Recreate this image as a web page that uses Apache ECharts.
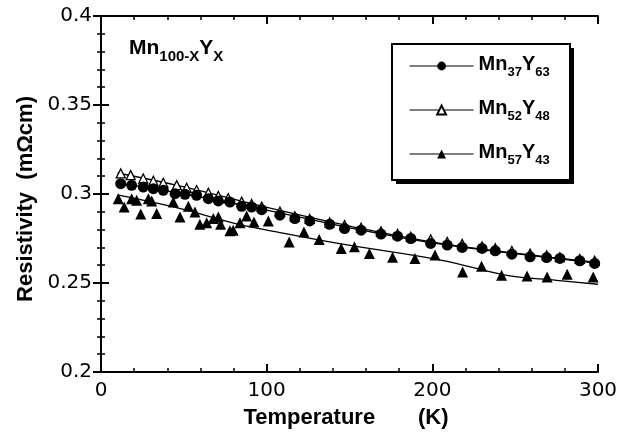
<!DOCTYPE html>
<html>
<head>
<meta charset="utf-8">
<script src="https://cdn.jsdelivr.net/npm/echarts@6/dist/echarts.min.js"></script>
<style>
  html, body { margin: 0; padding: 0; background: #fff; }
  #chart { width: 628px; height: 434px; }
</style>
</head>
<body>
<div id="chart"></div>
<script>
// Resistivity of amorphous Mn-Y alloys versus temperature
const xTicks = [0, 100, 200, 300];
const yTicks = [0.2, 0.25, 0.3, 0.35, 0.4];
const seriesNames = ['Mn37Y63', 'Mn52Y48', 'Mn57Y43'];

// measured points [T (K), rho (mOhm cm)]
const mn37y63 = [
  [11.9, 0.3058], [18.5, 0.3049], [25.5, 0.3039], [31.6, 0.3030], [37.6, 0.3021],
  [44.7, 0.3002], [50.7, 0.2998], [57.7, 0.2993], [64.8, 0.2974], [70.8, 0.2961],
  [77.8, 0.2955], [84.9, 0.2931], [90.9, 0.2927], [97, 0.2912], [108, 0.2881],
  [117, 0.2862], [126, 0.2849], [138, 0.2830], [147, 0.2806], [157, 0.2797],
  [169, 0.2775], [179, 0.2763], [187, 0.2750], [199, 0.2722], [209, 0.2713],
  [218, 0.2700], [230, 0.2694], [238, 0.2681], [248, 0.2662], [259, 0.2647],
  [269, 0.2643], [277, 0.2638], [289, 0.2625], [298, 0.2610]
];
const mn52y48 = [
  [11.9, 0.3116], [17.9, 0.3106], [25.5, 0.3087], [31.6, 0.3074], [37.6, 0.3063],
  [45.7, 0.3050], [51.7, 0.3035], [57.7, 0.3022], [64.8, 0.3007], [70.8, 0.2989],
  [76.8, 0.2976], [84.9, 0.2957], [90.9, 0.2944], [97, 0.2929], [108, 0.2901],
  [117, 0.2875], [126, 0.2860], [138, 0.2840], [147, 0.2825], [157, 0.2810],
  [169, 0.2790], [179, 0.2775], [187, 0.2760], [199, 0.2745], [209, 0.2730],
  [218, 0.2720], [230, 0.2705], [238, 0.2695], [248, 0.2680], [259, 0.2665],
  [269, 0.2655], [277, 0.2645], [289, 0.2635], [298, 0.2625]
];
const mn57y43 = [
  [10.4, 0.2974], [14, 0.2927], [18.5, 0.2974], [21.5, 0.2965], [24, 0.2887],
  [28.6, 0.2974], [30.6, 0.2961], [33.6, 0.2890], [43.6, 0.2955], [47.7, 0.2871],
  [52.7, 0.2931], [56.7, 0.2899], [59.7, 0.2830], [63.8, 0.2838], [67.8, 0.2862],
  [70.8, 0.2871], [72.2, 0.2830], [77.8, 0.2793], [79.8, 0.2797], [83.9, 0.2838],
  [87.9, 0.2876], [92.3, 0.2843], [101, 0.2849], [113.6, 0.2731], [122.5, 0.2787],
  [131.7, 0.2744], [145, 0.2694], [153, 0.2703], [162, 0.2666], [176, 0.2644],
  [189.5, 0.2638], [201.6, 0.2657], [218.3, 0.2562], [229.7, 0.2594], [241.8, 0.2543],
  [257.2, 0.2540], [269.3, 0.2534], [281.4, 0.2549], [297.1, 0.2534]
];

// guide curves through each data set
const fit37 = [[10, 0.3062], [50, 0.3000], [100, 0.2910], [150, 0.2810], [200, 0.2725], [250, 0.2665], [300, 0.2610]];
const fit52 = [[10, 0.3118], [50, 0.3040], [100, 0.2925], [150, 0.2820], [200, 0.2730], [250, 0.2668], [300, 0.2615]];
const fit57 = [[10, 0.2995], [48, 0.2918], [80, 0.2837], [106, 0.2787], [144, 0.2721], [205, 0.2629], [245, 0.2543], [275, 0.2515], [300, 0.2493]];

const FONT = '"Liberation Sans", Arial, Helvetica, sans-serif';
const TICK_FONT = '"DejaVu Sans", "Liberation Sans", sans-serif';
const INK = '#000';

function axisCommon(showLabel) {
  return {
    axisLine: { show: true, lineStyle: { color: INK, width: 2 } },
    // negative lengths turn the ticks towards the plot interior
    axisTick: { show: true, inside: false, length: -8, lineStyle: { color: INK, width: 2 } },
    minorTick: { show: true, splitNumber: 5, length: -4, lineStyle: { color: INK, width: 1.5 } },
    splitLine: { show: false },
    minorSplitLine: { show: false },
    axisLabel: { show: showLabel, color: INK, fontFamily: TICK_FONT, fontSize: 20, margin: 9 }
  };
}

// main text plus subscripts pushed down by top padding
function subscriptRich(size, subSize, drop) {
  return {
    m: { fontFamily: FONT, fontSize: size, fontWeight: 'bold', color: INK, lineHeight: 24, verticalAlign: 'top' },
    s: { fontFamily: FONT, fontSize: subSize, fontWeight: 'bold', color: INK, lineHeight: 14,
         verticalAlign: 'top', padding: [drop, 0, 0, 0] }
  };
}
function toRich(name) {
  return name.replace(/([A-Za-z]+)/g, '{m|$1}').replace(/(\d+)/g, '{s|$1}');
}

const chart = echarts.init(document.getElementById('chart'), null, { renderer: 'canvas' });

const fitStyle = { type: 'line', smooth: 0.4, showSymbol: false, symbol: 'none', silent: true,
                   lineStyle: { color: INK, width: 1.3 }, z: 2 };

// legend frame with its offset drop shadow
const legendBox = { x: 392, y: 44, width: 178, height: 136, shadow: 4 };

chart.setOption({
  animation: false,
  backgroundColor: '#fff',
  title: {
    text: '{m|Mn}{s|100-X}{m|Y}{s|X}',
    left: 129, top: 38,
    padding: 0,
    textStyle: { rich: subscriptRich(21, 15, 11) }
  },
  graphic: [
    { type: 'rect', z: 1, silent: true,
      shape: { x: legendBox.x + legendBox.shadow, y: legendBox.y + legendBox.shadow,
               width: legendBox.width, height: legendBox.height },
      style: { fill: INK } },
    { type: 'rect', z: 2, silent: true,
      shape: { x: legendBox.x, y: legendBox.y, width: legendBox.width, height: legendBox.height },
      style: { fill: '#fff', stroke: INK, lineWidth: 2 } }
  ],
  grid: { left: 101, top: 16, width: 497, height: 359 },
  legend: {
    data: seriesNames,
    orient: 'vertical',
    left: 409, top: 54,
    padding: 0,
    z: 10,
    itemGap: 19,
    itemWidth: 64,
    itemHeight: 11,
    lineStyle: { color: INK, width: 1.2, opacity: 1 },
    selectedMode: false,
    formatter: toRich,
    textStyle: { rich: subscriptRich(20, 13, 12) }
  },
  xAxis: [
    Object.assign({
      type: 'value', min: xTicks[0], max: xTicks[xTicks.length - 1], interval: 100,
      name: 'Temperature       (K)', nameLocation: 'middle', nameGap: 35,
      nameTextStyle: { fontFamily: FONT, fontSize: 22, fontWeight: 'bold', color: INK, padding: [0, 7, 0, 0] }
    }, axisCommon(true)),
    Object.assign({
      type: 'value', position: 'top', min: xTicks[0], max: xTicks[xTicks.length - 1], interval: 100
    }, axisCommon(false))
  ],
  yAxis: [
    Object.assign({
      type: 'value', min: yTicks[0], max: yTicks[yTicks.length - 1], interval: 0.05,
      name: 'Resistivity  (mΩcm)', nameLocation: 'middle', nameGap: 60,
      nameTextStyle: { fontFamily: FONT, fontSize: 22, fontWeight: 'bold', color: INK, padding: [0, 10, 0, 0] }
    }, axisCommon(true)),
    Object.assign({
      type: 'value', position: 'right', min: yTicks[0], max: yTicks[yTicks.length - 1], interval: 0.05
    }, axisCommon(false))
  ],
  series: [
    Object.assign({ name: 'fit52', data: fit52 }, fitStyle),
    Object.assign({ name: 'fit37', data: fit37 }, fitStyle),
    Object.assign({ name: 'fit57', data: fit57 }, fitStyle),
    {
      name: seriesNames[1], type: 'line', data: mn52y48, z: 3,
      symbol: 'triangle', symbolSize: 9, showSymbol: true,
      lineStyle: { width: 0, color: INK },
      itemStyle: { color: '#fff', borderColor: INK, borderWidth: 1.3 },
      emphasis: { disabled: true }
    },
    {
      name: seriesNames[0], type: 'line', data: mn37y63, z: 4,
      symbol: 'circle', symbolSize: 11, showSymbol: true,
      lineStyle: { width: 0, color: INK },
      itemStyle: { color: INK, borderWidth: 0 },
      emphasis: { disabled: true }
    },
    {
      name: seriesNames[2], type: 'line', data: mn57y43, z: 5,
      symbol: 'triangle', symbolSize: 11, showSymbol: true,
      lineStyle: { width: 0, color: INK },
      itemStyle: { color: INK, borderWidth: 0 },
      emphasis: { disabled: true }
    }
  ]
});
</script>
</body>
</html>
